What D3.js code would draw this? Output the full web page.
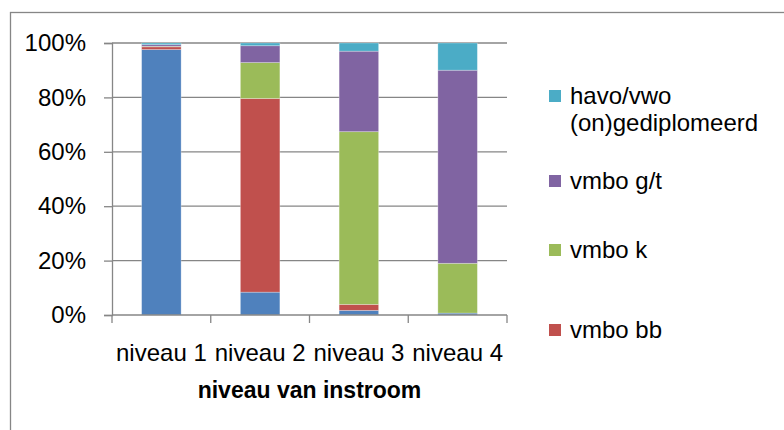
<!DOCTYPE html>
<html>
<head>
<meta charset="utf-8">
<script src="https://cdn.jsdelivr.net/npm/d3@7"></script>
<style>
  body { margin: 0; background: #fff; }
  text { font-family: "Liberation Sans", Arial, sans-serif; fill: #000; }
</style>
</head>
<body>
<div id="chart"></div>
<script>
// categorieen en waarden (percentages per niveau van instroom)
var categories = ["niveau 1", "niveau 2", "niveau 3", "niveau 4"];
var praktijk = [97.6, 8.4, 1.7, 0.7];      // blauwe reeks, niet in legenda
var vmboBB = [1.0, 71.2, 2.2, 0.0];
var vmboK = [0.2, 13.2, 63.5, 18.3];
var vmboGT = [0.6, 6.2, 29.6, 71.0];
var havoVwo = [0.6, 1.0, 3.0, 10.0];
var yTicks = [0, 20, 40, 60, 80, 100];

var seriesKeys = ["praktijk", "vmboBB", "vmboK", "vmboGT", "havoVwo"];
var colors = {
    praktijk: "#4F81BD",
    vmboBB: "#C0504D",
    vmboK: "#9BBB59",
    vmboGT: "#8064A2",
    havoVwo: "#4BACC6"
};
// legenda van boven naar beneden
var legendItems = [
    { key: "havoVwo", lines: ["havo/vwo", "(on)gediplomeerd"], y: 96 },
    { key: "vmboGT", lines: ["vmbo g/t"], y: 181 },
    { key: "vmboK", lines: ["vmbo k"], y: 250 },
    { key: "vmboBB", lines: ["vmbo bb"], y: 330 }
];

var rows = categories.map(function (c, i) {
    return {
        cat: c,
        praktijk: praktijk[i],
        vmboBB: vmboBB[i],
        vmboK: vmboK[i],
        vmboGT: vmboGT[i],
        havoVwo: havoVwo[i]
    };
});

let width = 784;
let height = 430;
var plotLeft = 112, plotRight = 507, plotTop = 43, plotBottom = 315;
var fs = "24px";

var svg = d3.select("#chart").append("svg")
    .attr("width", width)
    .attr("height", height);

// kader om de grafiek
svg.append("rect")
    .attr("x", 10.5).attr("y", 12.5)
    .attr("width", 800).attr("height", 450)
    .attr("fill", "none")
    .attr("stroke", "#868686")
    .attr("stroke-width", 1.3);

var xScale = d3.scaleBand()
    .domain(categories)
    .range([plotLeft, plotRight])
    .paddingInner(0.6)
    .paddingOuter(0.3);

var yScale = d3.scaleLinear()
    .domain([0, 100])
    .range([plotBottom, plotTop]);

// rasterlijnen
svg.selectAll(".grid")
    .data(yTicks.filter(function (d) { return d > 0; }))
    .enter()
    .append("line")
    .attr("class", "grid")
    .attr("x1", plotLeft).attr("x2", plotRight)
    .attr("y1", function (d) { return yScale(d); })
    .attr("y2", function (d) { return yScale(d); })
    .attr("stroke", "#868686")
    .attr("stroke-width", 1.3);

// y-as
var yAxis = d3.axisLeft(yScale)
    .tickValues(yTicks)
    .tickSize(8)
    .tickPadding(18)
    .tickFormat(function (d) { return d + "%"; });
var gy = svg.append("g")
    .attr("transform", "translate(" + plotLeft + ",0)")
    .call(yAxis);
gy.select(".domain").attr("stroke", "#868686").attr("stroke-width", 1.3);
gy.selectAll(".tick line").attr("stroke", "#868686").attr("stroke-width", 1.3);
gy.selectAll(".tick text")
    .attr("font-size", fs)
    .attr("font-family", "Liberation Sans, Arial, sans-serif")
    .attr("fill", "#000");

// gestapelde balken
var stack = d3.stack().keys(seriesKeys);
var stacked = stack(rows);

svg.selectAll(".serie")
    .data(stacked)
    .enter()
    .append("g")
    .attr("class", "serie")
    .attr("fill", function (d) { return colors[d.key]; })
    .selectAll("rect")
    .data(function (d) { return d; })
    .enter()
    .append("rect")
    .attr("x", function (d) { return xScale(d.data.cat); })
    .attr("width", xScale.bandwidth())
    .attr("y", function (d) { return yScale(d[1]); })
    .attr("height", function (d) { return yScale(d[0]) - yScale(d[1]); })
    .attr("stroke", "#ffffff")
    .attr("stroke-opacity", 0.35)
    .attr("stroke-width", 0.8);

// x-as met streepjes tussen de categorieen
var bounds = d3.range(categories.length + 1).map(function (i) {
    return plotLeft + i * xScale.step();
});
svg.append("line")
    .attr("x1", plotLeft).attr("x2", plotRight)
    .attr("y1", plotBottom).attr("y2", plotBottom)
    .attr("stroke", "#868686")
    .attr("stroke-width", 1.3);
svg.selectAll(".xtick")
    .data(bounds)
    .enter()
    .append("line")
    .attr("class", "xtick")
    .attr("x1", function (d) { return d; })
    .attr("x2", function (d) { return d; })
    .attr("y1", plotBottom).attr("y2", plotBottom + 8)
    .attr("stroke", "#868686")
    .attr("stroke-width", 1.3);

svg.selectAll(".xlabel")
    .data(categories)
    .enter()
    .append("text")
    .attr("class", "xlabel")
    .attr("x", function (d) { return xScale(d) + xScale.bandwidth() / 2; })
    .attr("y", 361)
    .attr("text-anchor", "middle")
    .attr("font-size", fs)
    .text(function (d) { return d; });

// as-titel
svg.append("text")
    .attr("x", (plotLeft + plotRight) / 2)
    .attr("y", 398)
    .attr("text-anchor", "middle")
    .attr("font-size", "23px")
    .attr("font-weight", "bold")
    .text("niveau van instroom");

// legenda
var lg = svg.selectAll(".legend")
    .data(legendItems)
    .enter()
    .append("g")
    .attr("class", "legend")
    .attr("transform", function (d) { return "translate(549," + d.y + ")"; });
lg.append("rect")
    .attr("x", 0).attr("y", -6)
    .attr("width", 12).attr("height", 12)
    .attr("fill", function (d) { return colors[d.key]; });
lg.each(function (d) {
    var g = d3.select(this);
    d.lines.forEach(function (line, i) {
        g.append("text")
            .attr("x", 21)
            .attr("y", i * 27)
            .attr("dy", "0.35em")
            .attr("font-size", fs)
            .text(line);
    });
});
</script>
</body>
</html>
